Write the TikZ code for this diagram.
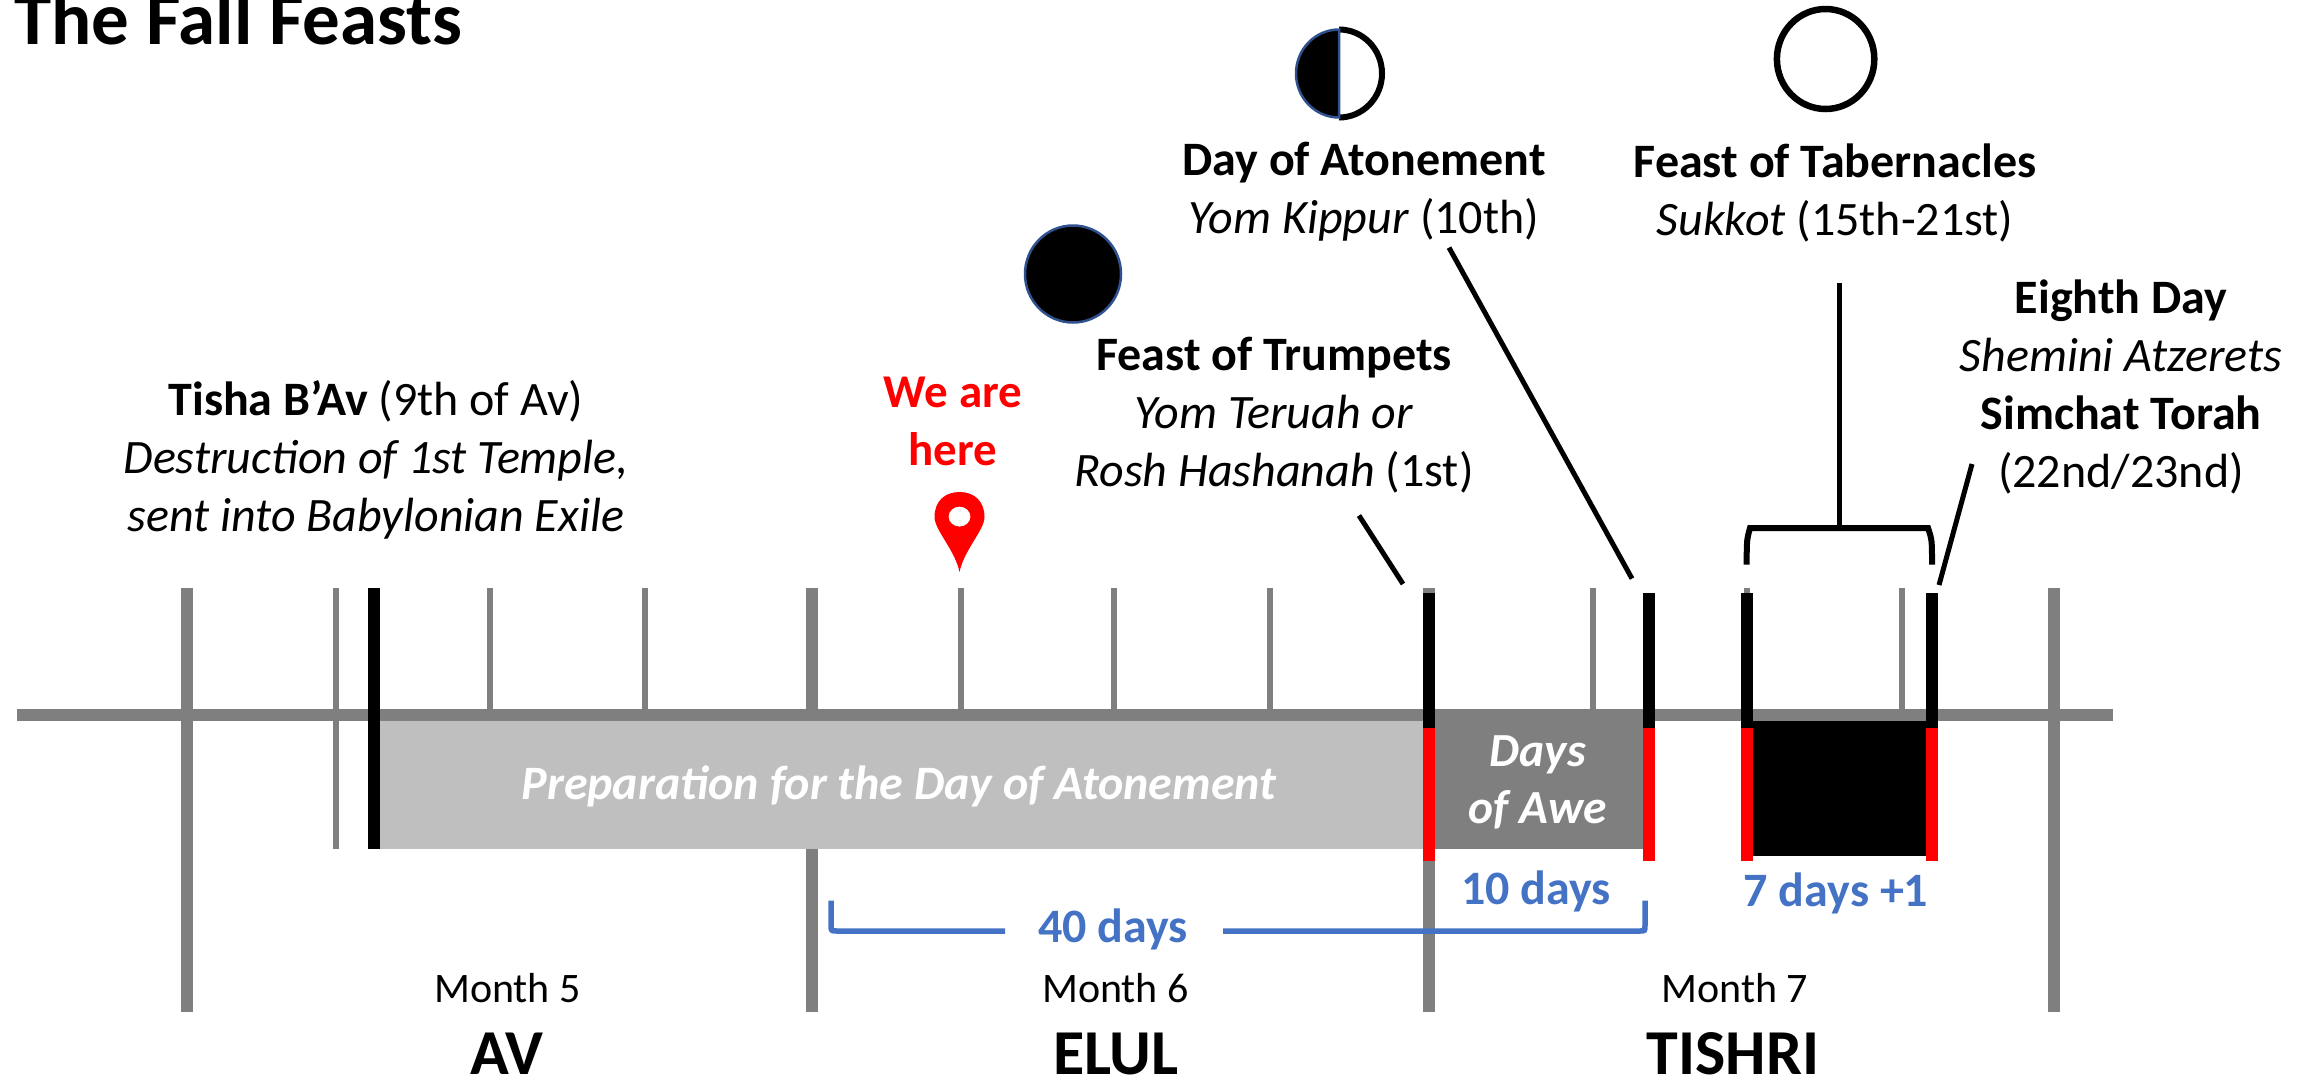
\documentclass[tikz,border=0pt]{standalone}
\usepackage{fontspec}
\setmainfont{Carlito}
\definecolor{tickgray}{HTML}{7F7F7F}
\definecolor{lightbar}{HTML}{BFBFBF}
\definecolor{bracketblue}{HTML}{4472C4}
\definecolor{moonblue}{HTML}{2F528F}
\newcommand{\bigtxt}{\fontsize{48}{58}\selectfont}
\tikzset{
  lbl/.style={inner sep=0pt,align=center,font=\bigtxt,text depth=0pt},
  monthtxt/.style={inner sep=0pt,anchor=base,font=\fontsize{42}{50}\selectfont},
  nametxt/.style={inner sep=0pt,anchor=base,font=\fontsize{64}{70}\selectfont\bfseries},
  bluetxt/.style={inner sep=0pt,font=\fontsize{48}{56}\selectfont\bfseries,text=bracketblue},
  monthtick/.style={draw=tickgray,line width=12pt},
  daytick/.style={draw=tickgray,line width=6pt},
  blackbar/.style={draw=black,line width=12pt},
  redbar/.style={draw=red,line width=12pt},
  leader/.style={draw=black,line width=5pt},
  brace/.style={draw=bracketblue,line width=5.5pt},
}
\begin{document}
\begin{tikzpicture}[x=1pt,y=-1pt]
\useasboundingbox (0,0) rectangle (2313,1080);
% main line and ticks
\foreach \x in {186.7,812,1428.6,2053.5} \draw[monthtick] (\x,588) -- (\x,1012);
\foreach \x in {335.5,489.7,644.6,961,1114,1269.5,1593,1746.7,1901.6} \draw[daytick] (\x,588) -- (\x,848.6);
\fill[tickgray] (17,708.6) rectangle (2113,720.5);
% bars
\fill[lightbar] (374,720.5) rectangle (1428,848.6);
\fill[tickgray] (1428,708.6) rectangle (1648,848.6);
\fill[black] (1746.7,720.5) rectangle (1931.8,856);
\draw[blackbar] (374,588) -- (374,848.6);
\foreach \x in {1428.6,1648.6,1746.7,1931.8}{
  \draw[blackbar] (\x,592.8) -- (\x,727.5);
  \draw[redbar] (\x,727.5) -- (\x,860.5);
}
% title
\node[inner sep=0pt,anchor=base west,font=\fontsize{75}{80}\selectfont\bfseries] (title) at (14,44) {The Fall Feasts};
% moons
\fill[black] (1073,274) ellipse[x radius=48,y radius=48.5];
\draw[moonblue,line width=2.5pt] (1073,274) ellipse[x radius=48,y radius=48.5];
\draw[black,line width=6pt] (1339,117.5) arc[start angle=90,end angle=-90,x radius=43,y radius=44];
\filldraw[fill=black,draw=moonblue,line width=2.5pt] (1339,117.5) arc[start angle=90,end angle=270,x radius=43,y radius=44] -- cycle;
\draw[black,line width=6.5pt] (1825.6,59) ellipse[x radius=48.7,y radius=50];
% pin
\fill[red,even odd rule] (959.5,572) .. controls (955,550) and (934.5,530) .. (934.5,517)
  .. controls (934.5,501) and (945,492) .. (959.5,492)
  .. controls (974,492) and (984.5,501) .. (984.5,517)
  .. controls (984.5,530) and (964,550) .. (959.5,572) -- cycle
  (959.5,516.6) ellipse[x radius=11,y radius=10];
% texts
\node[lbl] (tisha) at (376,456) {\textbf{Tisha B’Av} (9th of Av)\\\textit{Destruction of 1st Temple,}\\\textit{sent into Babylonian Exile}};
\node[lbl,text=red,font=\fontsize{47}{58}\selectfont\bfseries] (here) at (953,421) {We are\\here};
\node[lbl] (trumpets) at (1274,412) {\textbf{Feast of Trumpets}\\\textit{Yom Teruah or}\\\textit{Rosh Hashanah} (1st)};
\node[lbl] (atonement) at (1364,188) {\textbf{Day of Atonement}\\\textit{Yom Kippur} (10th)};
\node[lbl] (tabernacles) at (1835,190) {\textbf{Feast of Tabernacles}\\\textit{Sukkot} (15th-21st)};
\node[lbl] (eighth) at (2121,384) {\textbf{Eighth Day}\\\textit{Shemini Atzerets}\\\textbf{Simchat Torah}\\(22nd/23nd)};
\node[inner sep=0pt,text=white,font=\fontsize{48}{56}\selectfont\bfseries\itshape] (prep) at (899,786) {Preparation for the Day of Atonement};
\node[inner sep=0pt,align=center,text=white,font=\fontsize{47.5}{57}\selectfont\bfseries\itshape] (awe) at (1538,782) {Days\\of Awe};
\node[bluetxt] (ten) at (1536,891) {10 days};
\node[bluetxt] (seven) at (1836,893) {7 days +1};
\node[bluetxt] (forty) at (1113,929) {40 days};
\node[monthtxt] (m5) at (507.5,1002.5) {Month 5};
\node[monthtxt] (m6) at (1115.5,1002.5) {Month 6};
\node[monthtxt] (m7) at (1735,1002.5) {Month 7};
\node[nametxt] (av) at (507,1074) {AV};
\node[nametxt] (elul) at (1116,1074) {ELUL};
\node[nametxt] (tishri) at (1733,1074) {TISHRI};
% blue bracket
\coordinate (bl) at (831,900.6);
\coordinate (br) at (1645,900.6);
\draw[brace,line join=round] (bl) -- (831,925) .. controls (831,931) .. (837,931) -- (1005,931);
\draw[brace] (1223,931) -- (1640,931) .. controls (1645,931) .. (1645,925) -- (br);
% leaders
\coordinate (tr1) at (1359,515.5); \coordinate (tr2) at (1403,584);
\coordinate (at1) at (1449,247.6); \coordinate (at2) at (1632,578.6);
\coordinate (ta1) at (1839,283);   \coordinate (ta2) at (1839,528);
\coordinate (ei1) at (1972,464);   \coordinate (ei2) at (1939,585);
\coordinate (bk1) at (1746.7,564.5); \coordinate (bk2) at (1932,564.5);
\draw[leader] (tr1) -- (tr2);
\draw[leader] (at1) -- (at2);
\draw[leader] (ta1) -- (ta2);
\draw[leader] (ei1) -- (ei2);
\draw[leader,line width=6pt] (bk1) .. controls (1746.7,540) .. (1750,528) -- (1928,528) .. controls (1932,540) .. (bk2);
\end{tikzpicture}
\end{document}
